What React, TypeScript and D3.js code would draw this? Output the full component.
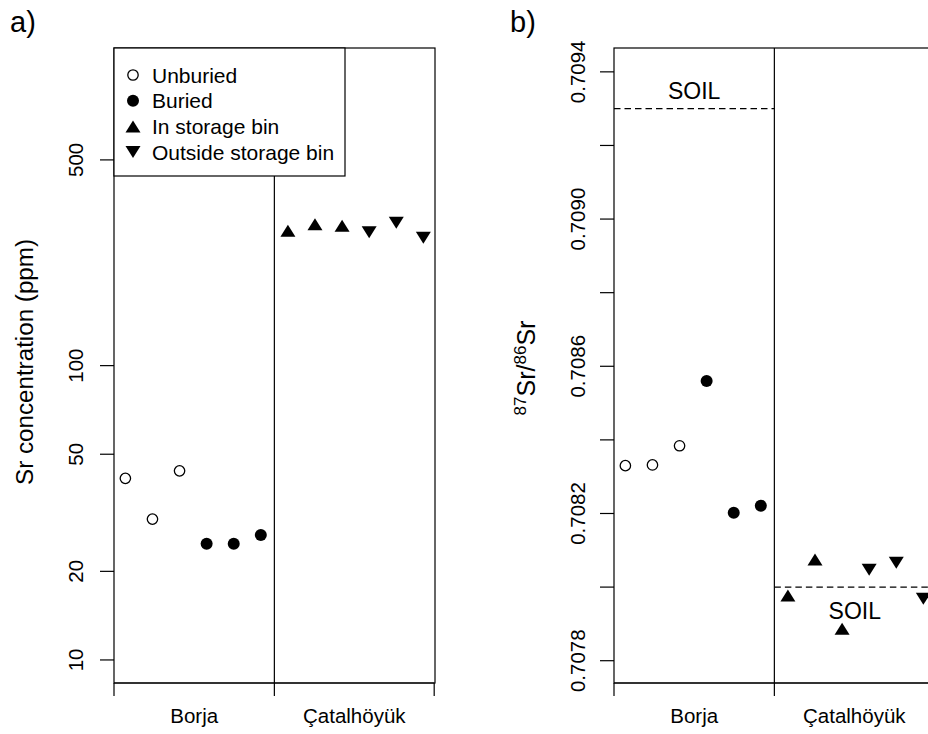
import * as d3 from 'd3';

// sample order along the x axis (1..12), Borja first then Çatalhöyük
const sites = ['Borja', 'Çatalhöyük'];
const sampleTypes = ['Unburied', 'Unburied', 'Unburied', 'Buried', 'Buried', 'Buried',
  'In storage bin', 'In storage bin', 'In storage bin',
  'Outside storage bin', 'Outside storage bin', 'Outside storage bin'];
const srConc = [41.4, 30.1, 43.9, 24.8, 24.8, 26.6, 287, 302, 299, 284, 306, 272];
const srRatio = [0.70833, 0.708332, 0.708384, 0.70856, 0.708202, 0.708221,
  0.707977, 0.708075, 0.707887, 0.708047, 0.708066, 0.707968];
const soilRatio = [0.7093, 0.708];

const legendLabels = ['Unburied', 'Buried', 'In storage bin', 'Outside storage bin'];
const concTicks = [10, 20, 50, 100, 500];
const ratioTicks = [0.7078, 0.708, 0.7082, 0.7084, 0.7086, 0.7088, 0.709, 0.7092, 0.7094];
const ratioLabels = ['0.7078', '', '0.7082', '', '0.7086', '', '0.7090', '', '0.7094'];
const xTicks = [0.58, 6.5, 12.4];

const FONT = '"Liberation Sans", Arial, Helvetica, sans-serif';
const top = 48;
const bottom = 683;
const panelW = 321;

const Marker = ({ type, x, y }: { type: string; x: number; y: number }) => {
  if (type === 'Unburied') {
    return <circle cx={x} cy={y} r={5.2} fill="white" stroke="black" strokeWidth={1.3} />;
  }
  if (type === 'Buried') {
    return <circle cx={x} cy={y} r={6} fill="black" />;
  }
  const w = 15, h = 12;
  const p = d3.path();
  if (type === 'In storage bin') {
    p.moveTo(x, y - h / 2); p.lineTo(x + w / 2, y + h / 2); p.lineTo(x - w / 2, y + h / 2);
  } else {
    p.moveTo(x, y + h / 2); p.lineTo(x + w / 2, y - h / 2); p.lineTo(x - w / 2, y - h / 2);
  }
  p.closePath();
  return <path d={p.toString()} fill="black" />;
};

const XAxis = ({ x }: { x: d3.ScaleLinear<number, number> }) => (
  <g>
    <line x1={x(xTicks[0])} x2={x(xTicks[2])} y1={bottom} y2={bottom} stroke="black" strokeWidth={1.2} />
    {xTicks.map((t, i) => (
      <line key={i} x1={x(t)} x2={x(t)} y1={bottom} y2={bottom + 13} stroke="black" strokeWidth={1.2} />
    ))}
    {sites.map((s, i) => (
      <text key={s} x={x(i === 0 ? 3.54 : 9.45)} y={723} textAnchor="middle" fontSize={20.5}>{s}</text>
    ))}
  </g>
);

const PanelA = () => {
  const left = 114;
  const x = d3.scaleLinear().domain([0.58, 12.43]).range([left, left + panelW]);
  const y = d3.scaleLog().domain([8.35, 1200]).range([bottom, top]);
  return (
    <g>
      <text x={10} y={32} fontSize={29}>a)</text>
      <rect x={left} y={top} width={panelW} height={bottom - top} fill="none" stroke="black" strokeWidth={1.2} />
      <line x1={x(6.5)} x2={x(6.5)} y1={top} y2={bottom} stroke="black" strokeWidth={1.2} />
      {concTicks.map(t => (
        <g key={t}>
          <line x1={left - 14} x2={left} y1={y(t)} y2={y(t)} stroke="black" strokeWidth={1.2} />
          <text transform={`translate(75,${y(t)}) rotate(-90)`} textAnchor="middle" dominantBaseline="central" fontSize={20.5}>{t}</text>
        </g>
      ))}
      <text transform={`translate(33,362) rotate(-90)`} textAnchor="middle" fontSize={24.2}>Sr concentration (ppm)</text>
      <XAxis x={x} />
      {srConc.map((v, i) => <Marker key={i} type={sampleTypes[i]} x={x(i + 1)} y={y(v)} />)}
      <rect x={left} y={top} width={231} height={128} fill="white" stroke="black" strokeWidth={1.2} />
      {legendLabels.map((l, i) => (
        <g key={l}>
          <Marker type={l} x={133} y={75 + i * 25.7} />
          <text x={152} y={75 + i * 25.7 + 7.5} fontSize={21}>{l}</text>
        </g>
      ))}
    </g>
  );
};

const PanelB = () => {
  const left = 614;
  const x = d3.scaleLinear().domain([0.58, 12.43]).range([left, left + panelW]);
  const y = d3.scaleLinear().domain([0.7077386, 0.709464]).range([bottom + 0.3, top + 0.3]);
  return (
    <g>
      <text x={510} y={32} fontSize={29}>b)</text>
      <rect x={left} y={top} width={panelW} height={bottom - top} fill="none" stroke="black" strokeWidth={1.2} />
      <line x1={x(6.5)} x2={x(6.5)} y1={top} y2={bottom} stroke="black" strokeWidth={1.2} />
      {ratioTicks.map((t, i) => (
        <g key={t}>
          <line x1={left - 14} x2={left} y1={y(t)} y2={y(t)} stroke="black" strokeWidth={1.2} />
          {ratioLabels[i] && (
            <text transform={`translate(577,${y(t)}) rotate(-90)`} textAnchor="middle" dominantBaseline="central" fontSize={20.5}>{ratioLabels[i]}</text>
          )}
        </g>
      ))}
      <text transform={`translate(535,368) rotate(-90)`} textAnchor="middle" fontSize={25}>
        <tspan fontSize={17} dy={-9}>87</tspan>
        <tspan dy={9}>Sr/</tspan>
        <tspan fontSize={17} dy={-9}>86</tspan>
        <tspan dy={9}>Sr</tspan>
      </text>
      <XAxis x={x} />
      {soilRatio.map((v, i) => (
        <g key={i}>
          <line x1={x(i === 0 ? 0.58 : 6.5)} x2={x(i === 0 ? 6.5 : 12.43)} y1={y(v)} y2={y(v)}
            stroke="black" strokeWidth={1.2} strokeDasharray="6.5,4" />
          <text x={x(i === 0 ? 3.54 : 9.47)} y={i === 0 ? y(v) - 10 : y(v) + 32} textAnchor="middle" fontSize={23}>SOIL</text>
        </g>
      ))}
      {srRatio.map((v, i) => <Marker key={i} type={sampleTypes[i]} x={x(i + 1)} y={y(v)} />)}
    </g>
  );
};

export default function App() {
  return (
    <svg width={928} height={734} style={{ position: 'absolute', left: 0, top: 0, background: 'white' }}
      fontFamily={FONT}>
      <rect width={928} height={734} fill="white" />
      <PanelA />
      <PanelB />
    </svg>
  );
}
